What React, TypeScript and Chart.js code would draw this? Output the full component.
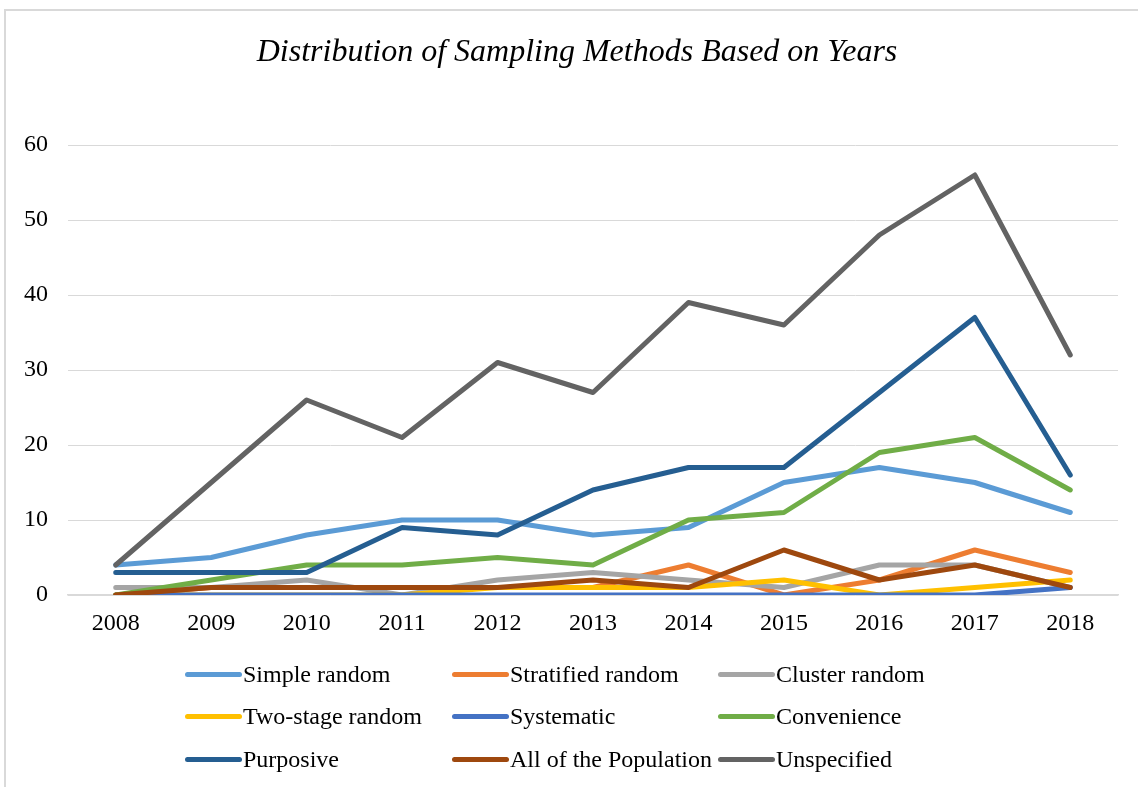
import React, { useEffect, useRef } from "react";
import { Chart, registerables } from "chart.js";

Chart.register(...registerables);

const years = ["2008", "2009", "2010", "2011", "2012", "2013", "2014", "2015", "2016", "2017", "2018"];
const simpleRandom = [4, 5, 8, 10, 10, 8, 9, 15, 17, 15, 11];
const stratifiedRandom = [0, 1, 1, 1, 1, 1, 4, 0, 2, 6, 3];
const clusterRandom = [1, 1, 2, 0, 2, 3, 2, 1, 4, 4, 1];
const twoStageRandom = [0, 0, 0, 0, 1, 1, 1, 2, 0, 1, 2];
const systematic = [0, 0, 0, 0, 0, 0, 0, 0, 0, 0, 1];
const convenience = [0, 2, 4, 4, 5, 4, 10, 11, 19, 21, 14];
const purposive = [3, 3, 3, 9, 8, 14, 17, 17, 27, 37, 16];
const allPopulation = [0, 1, 1, 1, 1, 2, 1, 6, 2, 4, 1];
const unspecified = [4, 15, 26, 21, 31, 27, 39, 36, 48, 56, 32];
const yTicks = [0, 10, 20, 30, 40, 50, 60];

const chartTitle = "Distribution of Sampling Methods Based on Years";

const seriesNames = [
  "Simple random",
  "Stratified random",
  "Cluster random",
  "Two-stage random",
  "Systematic",
  "Convenience",
  "Purposive",
  "All of the Population",
  "Unspecified",
];
const seriesData = [
  simpleRandom,
  stratifiedRandom,
  clusterRandom,
  twoStageRandom,
  systematic,
  convenience,
  purposive,
  allPopulation,
  unspecified,
];
const seriesColors = [
  "#5B9BD5",
  "#ED7D31",
  "#A5A5A5",
  "#FFC000",
  "#4472C4",
  "#70AD47",
  "#255E91",
  "#9E480E",
  "#636363",
];

const FONT = "'Liberation Serif', 'Times New Roman', serif";

const legendCols = [185, 452, 718];
const legendRows = [674, 716, 759];

export default function App() {
  const canvasRef = useRef<HTMLCanvasElement | null>(null);

  useEffect(() => {
    if (!canvasRef.current) return;
    const chart = new Chart(canvasRef.current, {
      type: "line",
      data: {
        labels: years,
        datasets: seriesNames.map((name, i) => ({
          label: name,
          data: seriesData[i],
          borderColor: seriesColors[i],
          backgroundColor: seriesColors[i],
          borderWidth: 5,
          pointRadius: 0,
          tension: 0,
          borderCapStyle: "round" as const,
          borderJoinStyle: "round" as const,
          order: 10 - i,
        })),
      },
      options: {
        animation: false,
        responsive: false,
        maintainAspectRatio: false,
        layout: { padding: { top: 145, left: 0, right: 20, bottom: 152 } },
        plugins: {
          legend: { display: false },
          tooltip: { enabled: false },
          title: { display: false },
        },
        scales: {
          x: {
            offset: true,
            grid: { display: false, drawTicks: false },
            border: { display: true, color: "#d9d9d9", width: 1.5 },
            ticks: { color: "#000", font: { family: FONT, size: 24 }, padding: 14 },
            afterFit: (scale: any) => {
              scale.height = 40;
            },
          },
          y: {
            min: 0,
            max: 60,
            afterBuildTicks: (scale: any) => {
              scale.ticks = yTicks.map((v) => ({ value: v }));
            },
            grid: { color: "#d9d9d9", lineWidth: 1, drawTicks: false },
            border: { display: false },
            ticks: { color: "#000", font: { family: FONT, size: 24 }, padding: 20 },
            afterFit: (scale: any) => {
              scale.width = 68;
            },
          },
        },
      },
    });
    return () => chart.destroy();
  }, []);

  return (
    <div
      style={{
        position: "fixed",
        left: 0,
        top: 0,
        width: 1138,
        height: 787,
        background: "#fff",
        overflow: "hidden",
        fontFamily: FONT,
      }}
    >
      <div
        style={{
          position: "absolute",
          left: 4,
          top: 9,
          width: 1200,
          height: 900,
          borderTop: "2px solid #d9d9d9",
          borderLeft: "2px solid #d9d9d9",
        }}
      />
      <canvas
        ref={canvasRef}
        width={1138}
        height={787}
        style={{ position: "absolute", left: 0, top: 0, width: 1138, height: 787 }}
      />
      <div
        style={{
          position: "absolute",
          left: 277 - 300,
          width: 1200,
          top: 30,
          height: 40,
          lineHeight: "40px",
          textAlign: "center",
          fontSize: 32,
          fontStyle: "italic",
          color: "#000",
          whiteSpace: "nowrap",
        }}
      >
        {chartTitle}
      </div>
      {seriesNames.map((name, i) => {
        const col = i % 3;
        const row = Math.floor(i / 3);
        return (
          <div
            key={name}
            style={{
              position: "absolute",
              left: legendCols[col],
              top: legendRows[row] - 15,
              height: 30,
              display: "flex",
              alignItems: "center",
              whiteSpace: "nowrap",
              fontSize: 24,
              color: "#000",
            }}
          >
            <span
              style={{
                display: "inline-block",
                width: 57,
                height: 5,
                borderRadius: 3,
                background: seriesColors[i],
                marginRight: 1,
              }}
            />
            <span>{name}</span>
          </div>
        );
      })}
    </div>
  );
}
